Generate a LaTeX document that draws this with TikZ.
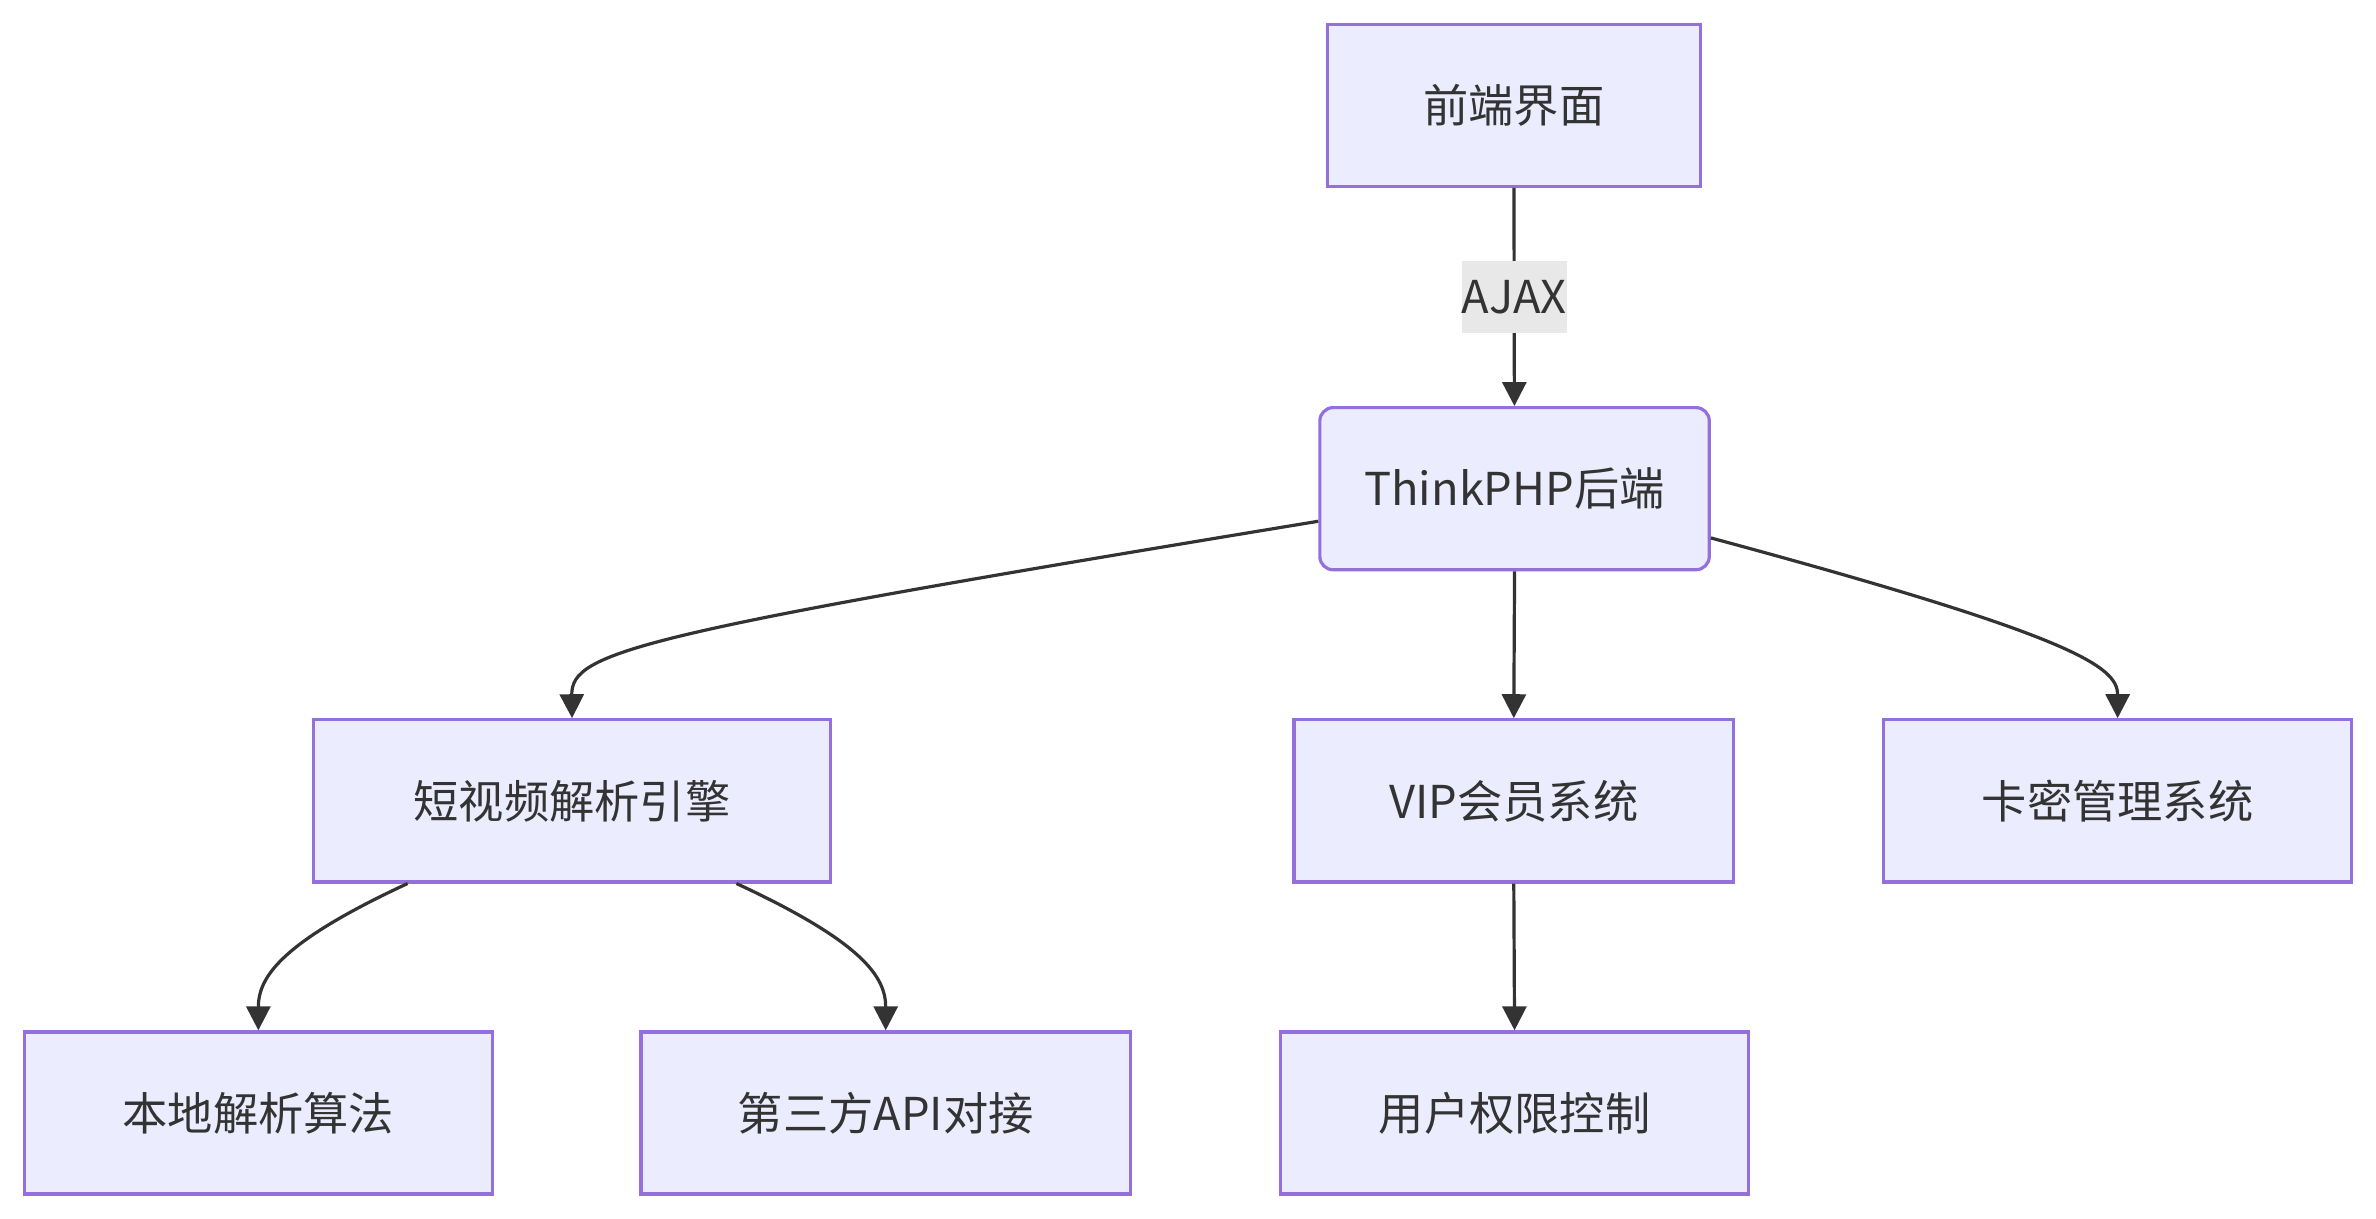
\documentclass[tikz,border=0pt]{standalone}
\usepackage{fontspec}
\setmainfont{Noto Sans CJK SC}
\usetikzlibrary{arrows.meta}
\definecolor{nfill}{HTML}{ECECFF}
\definecolor{nline}{HTML}{9370DB}
\definecolor{eline}{HTML}{333333}
\definecolor{lbg}{HTML}{E8E8E8}
\begin{document}
\begin{tikzpicture}[x=0.02cm,y=-0.02cm,
  box/.style={draw=nline,fill=nfill,line width=1.2pt,minimum height=107*0.02cm,text=eline,font=\fontsize{17}{20}\selectfont,inner sep=0pt},
  edge/.style={draw=eline,line width=1.2pt,-{Triangle[length=9pt,width=9pt]}}]
\useasboundingbox (0,0) rectangle (1568,804);
\fill[white] (0,0) rectangle (1568,804);
\node[box,minimum width=246*0.02cm] (fe) at (999,69.5) {前端界面};
\node[box,rounded corners=5pt,minimum width=257*0.02cm] (be) at (999.5,322.5) {ThinkPHP后端};
\node[box,minimum width=341*0.02cm] (eng) at (377.5,528.5) {短视频解析引擎};
\node[box,minimum width=290*0.02cm] (vip) at (999,528.5) {VIP会员系统};
\node[box,minimum width=309*0.02cm] (card) at (1397.5,528.5) {卡密管理系统};
\node[box,minimum width=309*0.02cm] (loc) at (170.5,734.5) {本地解析算法};
\node[box,minimum width=323*0.02cm] (api) at (584.5,734.5) {第三方API对接};
\node[box,minimum width=309*0.02cm] (perm) at (999.5,734.5) {用户权限控制};
\draw[edge] (fe) -- node[fill=lbg,text=eline,font=\fontsize{17}{20}\selectfont,minimum width=69*0.02cm,minimum height=47*0.02cm,inner sep=0pt]{AJAX} (be);
\draw[edge] (be.south) -- (vip.north);
\draw[edge] (vip.south) -- (perm.north);
\draw[edge] (be.west |- 0,344) .. controls (420,418) and (377,430) .. (eng.north);
\draw[edge] (be.east |- 0,355) .. controls (1370,420) and (1397.5,440) .. (card.north);
\draw[edge] (eng.south -| 269,0) .. controls (185,622) and (170.5,645) .. (loc.north);
\draw[edge] (eng.south -| 486,0) .. controls (570,622) and (584.5,645) .. (api.north);
\end{tikzpicture}
\end{document}
